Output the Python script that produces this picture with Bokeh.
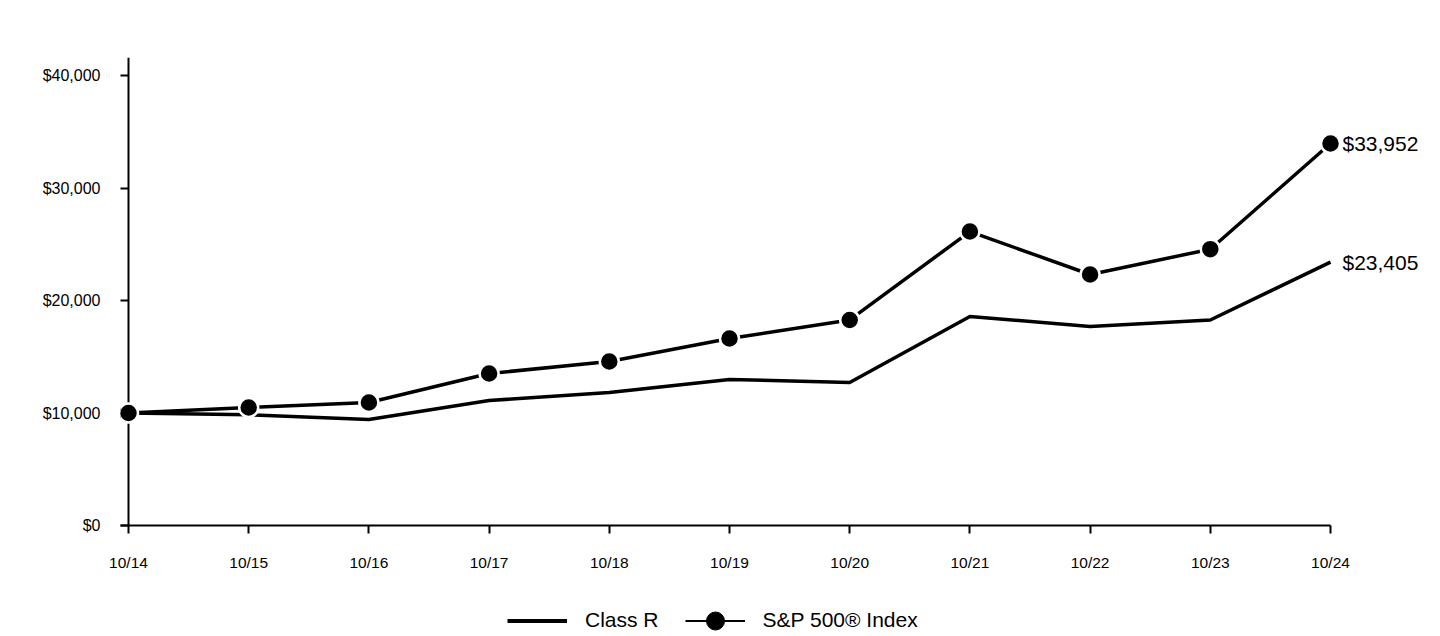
from bokeh.plotting import figure
from bokeh.layouts import column
from bokeh.models import (ColumnDataSource, FixedTicker, NumeralTickFormatter, Range1d,
                          Legend, LegendItem, Label, Span)
from bokeh.embed import file_html
from bokeh.resources import INLINE

# ---- data ----
periods = ["10/14", "10/15", "10/16", "10/17", "10/18", "10/19", "10/20", "10/21", "10/22", "10/23", "10/24"]
class_r = [10000, 9850, 9420, 11110, 11820, 12980, 12710, 18580, 17690, 18270, 23405]
sp500 = [10000, 10490, 10930, 13510, 14580, 16620, 18270, 26130, 22310, 24560, 33952]
y_ticks = [0, 10000, 20000, 30000, 40000]
series_names = ["Class R", "S&P 500® Index"]

FONT = "Liberation Sans"
xs = list(range(len(periods)))
src = ColumnDataSource(dict(x=xs, r=class_r, s=sp500))

# layout geometry (pixels)
W, H = 1424, 598
LEG_H = 38
F_LEFT, F_TOP, F_BOTTOM = 120, 57, 525
AXIS_X = 128          # pixel of first category
LAST_X = 1330         # pixel of last category
ppu = (LAST_X - AXIS_X) / (len(periods) - 1)
x_start = -(AXIS_X - F_LEFT) / ppu
x_end = (len(periods) - 1) + (W - LAST_X) / ppu

p = figure(width=W, height=H, output_backend="svg", toolbar_location=None,
           x_range=Range1d(x_start, x_end), y_range=Range1d(0, 41600),
           min_border_left=F_LEFT, min_border_right=0, min_border_top=F_TOP,
           min_border_bottom=H - F_BOTTOM)
p.outline_line_color = None
p.xgrid.grid_line_color = None
p.ygrid.grid_line_color = None

# y axis line at the first category
p.add_layout(Span(location=0, dimension="height", line_color="black", line_width=2, level="underlay"))

r_line = p.line("x", "r", source=src, line_color="black", line_width=3.5)
s_line = p.line("x", "s", source=src, line_color="black", line_width=3.5)
s_pts = p.scatter("x", "s", source=src, size=19, fill_color="black", line_color="white", line_width=2.5)

# axes
for ax in (p.xaxis[0], p.yaxis[0]):
    ax.axis_line_width = 2
    ax.axis_line_color = "black"
    ax.major_tick_line_width = 2
    ax.major_tick_line_color = "black"
    ax.minor_tick_line_color = None
    ax.major_label_text_font = FONT
    ax.major_label_text_color = "black"
    ax.major_label_standoff = 20

p.xaxis.major_tick_in = 0
p.xaxis.major_tick_out = 8
p.xaxis.bounds = (x_start, len(periods) - 1)
p.xaxis.major_label_text_font_size = "15.5px"
p.xaxis.ticker = FixedTicker(ticks=xs)
p.xaxis.major_label_overrides = {i: lab for i, lab in enumerate(periods)}

p.yaxis.axis_line_color = None
p.yaxis.major_tick_in = 8
p.yaxis.major_tick_out = 0
p.yaxis.major_label_text_font_size = "16px"
p.yaxis.ticker = FixedTicker(ticks=y_ticks)
p.yaxis.formatter = NumeralTickFormatter(format="$0,0")

# end labels
for val in (sp500[-1], class_r[-1]):
    p.add_layout(Label(x=xs[-1], y=val, text="${:,}".format(val), x_offset=12, y_offset=0,
                       text_baseline="middle", text_align="left", text_font=FONT,
                       text_font_size="21px", text_color="black"))

# legend in its own strip below the chart (frame is aligned with the chart's frame)
lf = figure(width=W, height=LEG_H, output_backend="svg", toolbar_location=None,
            x_range=Range1d(0, 1), y_range=Range1d(0, 1), x_axis_type=None, y_axis_type=None,
            min_border_left=0, min_border_right=0, min_border_top=0, min_border_bottom=0)
lf.outline_line_color = None
# off-range sample so the legend swatches are drawn (nothing visible in the strip)
dsrc = ColumnDataSource(dict(x=[5, 6], y=[5, 6]))
lg_r = lf.line("x", "y", source=dsrc, line_color="black", line_width=4)
lg_s = lf.line("x", "y", source=dsrc, line_color="black", line_width=2)
lg_sp = lf.scatter("x", "y", source=dsrc, size=18, fill_color="black", line_color="black")
GLYPH_H = 45
legend = Legend(items=[LegendItem(label=series_names[0], renderers=[lg_r]),
                       LegendItem(label=series_names[1], renderers=[lg_s, lg_sp])],
                orientation="horizontal", location=(507 - F_LEFT, -6.5),
                glyph_width=60, glyph_height=GLYPH_H, label_height=GLYPH_H,
                label_standoff=18, spacing=26,
                padding=0, margin=0, border_line_color=None, background_fill_alpha=0,
                label_text_font=FONT, label_text_font_size="21px", label_text_color="black")
lf.add_layout(legend, "center")

layout = column(p, lf, spacing=0)
open("out.html", "w").write(file_html(layout, INLINE))
